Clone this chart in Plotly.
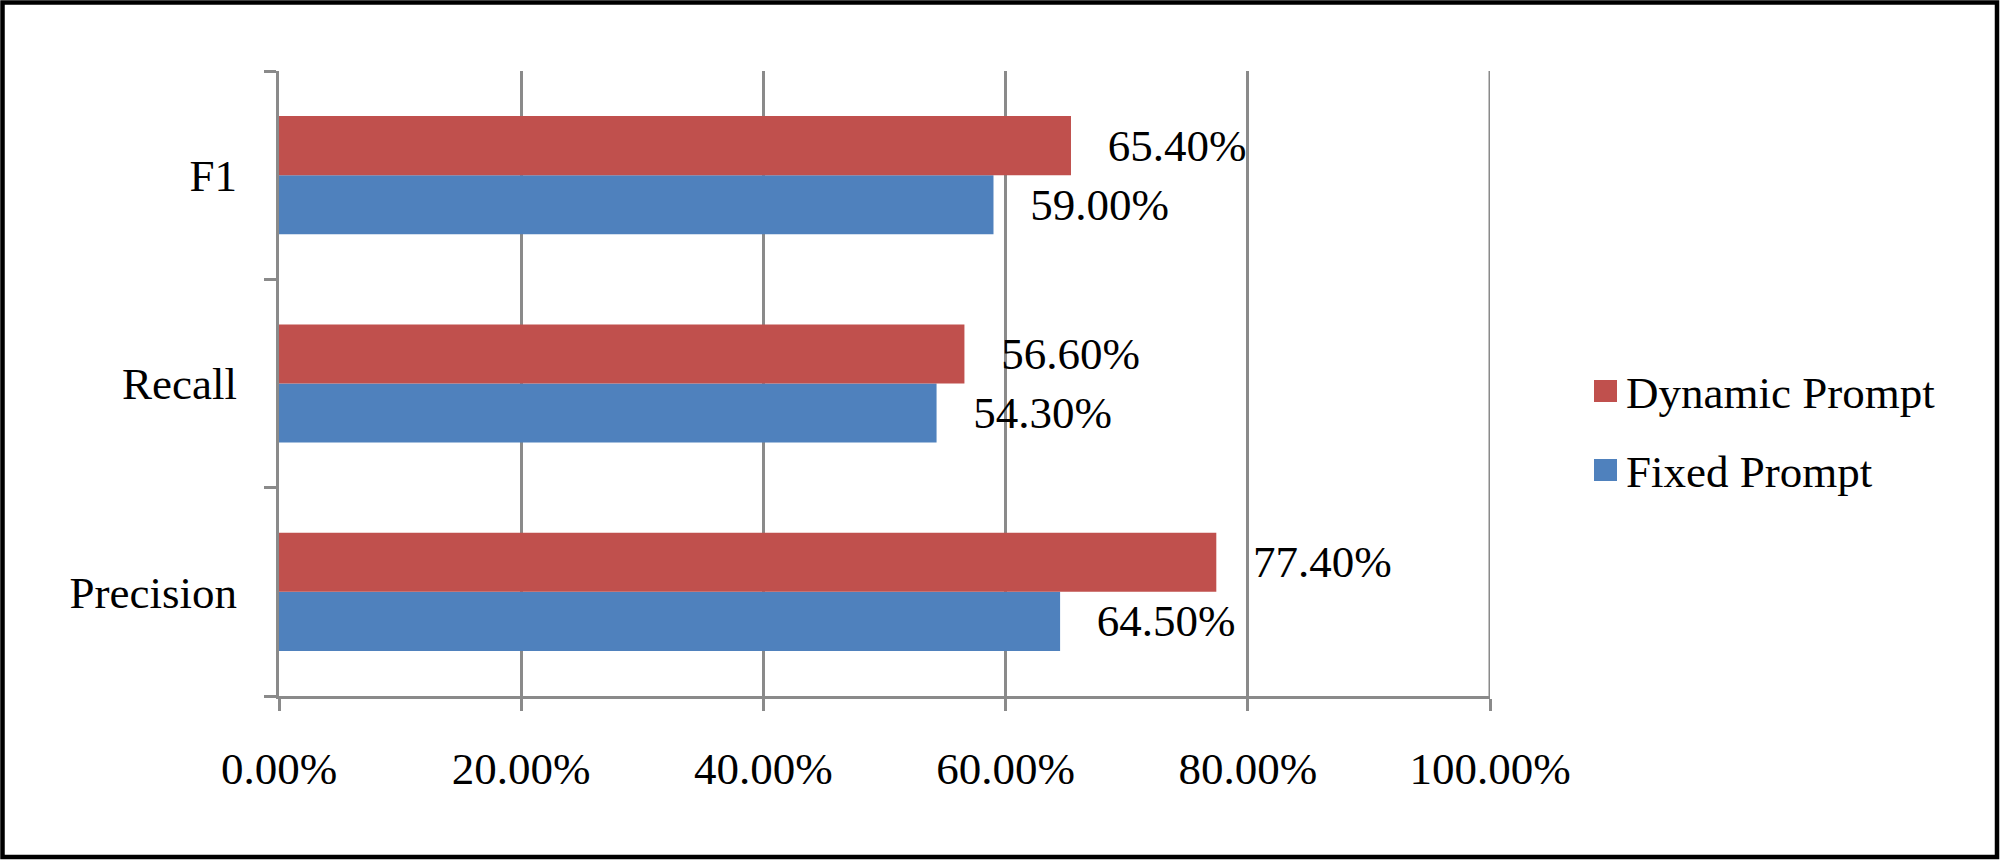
import plotly.graph_objects as go

# ---- data ----
categories = ["Precision", "Recall", "F1"]
series_names = ["Fixed Prompt", "Dynamic Prompt"]
fixed_values = [0.645, 0.543, 0.590]
dynamic_values = [0.774, 0.566, 0.654]
x_ticks = [0.0, 0.2, 0.4, 0.6, 0.8, 1.0]

colors = {"Fixed Prompt": "#4F81BD", "Dynamic Prompt": "#C0504D"}
FONT = "Liberation Serif, Times New Roman, serif"
FS = 45
GRID = "#8a8a8a"

W, H = 2000, 860
L, R, T, B = 279, 2000 - 1490, 71, 860 - 696
PW, PH = W - L - R, H - T - B


def px_x(px):
    return (px - L) / PW


def px_y(py):
    return (H - B - py) / PH


fig = go.Figure()
for name, vals in [("Fixed Prompt", fixed_values), ("Dynamic Prompt", dynamic_values)]:
    fig.add_trace(go.Bar(
        y=categories, x=vals, name=name, orientation="h",
        marker=dict(color=colors[name], line=dict(width=0)),
        text=vals, texttemplate="\u00a0\u00a0\u00a0%{x:.2%}",
        textposition="outside", cliponaxis=False, constraintext="none",
        textfont=dict(family=FONT, size=FS, color="black"),
        showlegend=False,
    ))

shapes = [
    # gridline at the last tick (plotly omits it at the range edge)
    dict(type="line", xref="x", yref="paper", x0=x_ticks[-1], x1=x_ticks[-1], y0=0, y1=1,
         line=dict(color=GRID, width=3), layer="below"),
    dict(type="rect", xref="paper", yref="paper",
         x0=px_x(2.5), x1=px_x(1997), y0=px_y(2.5), y1=px_y(857),
         line=dict(color="black", width=4.5), fillcolor="rgba(0,0,0,0)", layer="above"),
]
annotations = []
legend_items = [("Dynamic Prompt", 391), ("Fixed Prompt", 470)]
for name, cy in legend_items:
    shapes.append(dict(type="rect", xref="paper", yref="paper",
                       x0=px_x(1594), x1=px_x(1617), y0=px_y(cy - 11), y1=px_y(cy + 11),
                       line=dict(width=0), fillcolor=colors[name]))
    annotations.append(dict(xref="paper", yref="paper", x=px_x(1624), y=px_y(cy + 2),
                            text=name, showarrow=False, xanchor="left", yanchor="middle",
                            font=dict(family=FONT, size=FS, color="black")))

fig.update_layout(
    width=W, height=H,
    margin=dict(l=L, r=R, t=T, b=B, pad=0),
    paper_bgcolor="white", plot_bgcolor="white",
    barmode="group", bargap=0.433, bargroupgap=0,
    font=dict(family=FONT, size=FS, color="black"),
    shapes=shapes, annotations=annotations,
    xaxis=dict(range=[0, 1], tickvals=x_ticks, tickformat=".2%",
               showgrid=True, gridcolor=GRID, gridwidth=3,
               showline=True, linecolor=GRID, linewidth=3,
               ticks="outside", ticklen=12, tickwidth=3, tickcolor=GRID,
               zeroline=False, ticklabelstandoff=19,
               tickfont=dict(family=FONT, size=FS, color="black")),
    yaxis=dict(categoryorder="array", categoryarray=categories,
               showgrid=False, showline=True, linecolor=GRID, linewidth=3,
               ticks="outside", ticklen=12, tickwidth=3, tickcolor=GRID,
               tickson="boundaries", ticklabelstandoff=30,
               tickfont=dict(family=FONT, size=FS, color="black")),
)

fig.write_html("out.html", config={"displayModeBar": False},
               post_script="document.body.style.margin='0';document.body.style.overflow='hidden';")
